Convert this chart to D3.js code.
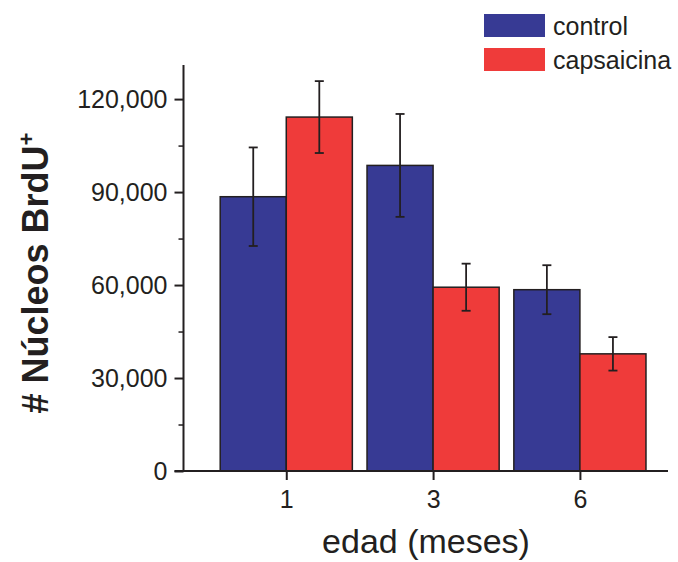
<!DOCTYPE html>
<html>
<head>
<meta charset="utf-8">
<script src="https://cdn.jsdelivr.net/npm/d3@7"></script>
<style>
  body { margin: 0; background: #fff; }
  text { font-family: Arial, "Liberation Sans", sans-serif; fill: #231f20; }
</style>
</head>
<body>
<div id="chart"></div>
<script>
// data
const ages = ["1", "3", "6"];
const seriesNames = ["control", "capsaicina"];
const controlMean = [88500, 98600, 58500];
const controlErr = [15900, 16600, 7900];
const capsMean = [114200, 59300, 37800];
const capsErr = [11600, 7600, 5400];
const yTicks = [0, 30000, 60000, 90000, 120000];
const yMinorTicks = [15000, 45000, 75000, 105000];
const colors = ["#373a94", "#ef3b3a"];
const ink = "#231f20";

const width = 678, height = 562;

const svg = d3.select("#chart").append("svg")
    .attr("width", width)
    .attr("height", height);

// categories sit at positions 1..3 on a linear axis
const x = d3.scaleLinear().domain([0.3, 3.6]).range([183.5, 668]);
const y = d3.scaleLinear().domain([0, 131000]).range([471, 65]);
const barW = x(1.45) - x(1);

const rows = [];
ages.forEach((a, i) => {
    rows.push({ i: i + 1, s: 0, v: controlMean[i], e: controlErr[i] });
    rows.push({ i: i + 1, s: 1, v: capsMean[i], e: capsErr[i] });
});

// bars
svg.selectAll("rect.bar")
    .data(rows)
    .enter()
    .append("rect")
    .attr("class", "bar")
    .attr("x", d => d.s === 0 ? x(d.i) - barW : x(d.i))
    .attr("y", d => y(d.v))
    .attr("width", barW)
    .attr("height", d => y(0) - y(d.v))
    .attr("fill", d => colors[d.s])
    .attr("stroke", ink)
    .attr("stroke-width", 1.5);

// error bars
const cx = d => d.s === 0 ? x(d.i) - barW / 2 : x(d.i) + barW / 2;
const err = svg.append("g").attr("stroke", ink).attr("stroke-width", 1.8);
rows.forEach(d => {
    const c = cx(d);
    err.append("line").attr("x1", c).attr("x2", c)
        .attr("y1", y(d.v + d.e)).attr("y2", y(d.v - d.e));
    err.append("line").attr("x1", c - 4.5).attr("x2", c + 4.5)
        .attr("y1", y(d.v + d.e)).attr("y2", y(d.v + d.e));
    err.append("line").attr("x1", c - 4.5).attr("x2", c + 4.5)
        .attr("y1", y(d.v - d.e)).attr("y2", y(d.v - d.e));
});

// y axis
const yAxis = svg.append("g")
    .attr("transform", `translate(${x.range()[0]},0)`)
    .call(d3.axisLeft(y).tickValues(yTicks).tickSize(9).tickPadding(7)
        .tickFormat(d3.format(",")));
yAxis.select(".domain").attr("d", `M0,${y.range()[1]}V${y(0)}`);
yAxis.selectAll("line, path").attr("stroke", ink).attr("stroke-width", 2);
yAxis.selectAll("text").attr("font-size", 25).attr("fill", ink)
    .style("font-family", "Arial, 'Liberation Sans', sans-serif");

const yMinor = svg.append("g")
    .attr("transform", `translate(${x.range()[0]},0)`)
    .call(d3.axisLeft(y).tickValues(yMinorTicks).tickSize(5).tickFormat(""));
yMinor.select(".domain").remove();
yMinor.selectAll("line").attr("stroke", ink).attr("stroke-width", 1.5);

// x axis
const xAxis = svg.append("g")
    .attr("transform", `translate(0,${y(0)})`)
    .call(d3.axisBottom(x).tickValues([1, 2, 3]).tickSize(9).tickPadding(10)
        .tickFormat((d, i) => ages[i]));
xAxis.select(".domain").attr("d", `M${x.range()[0] - 9},0H${x.range()[1]}`);
xAxis.selectAll("line, path").attr("stroke", ink).attr("stroke-width", 2);
xAxis.selectAll("text").attr("font-size", 25).attr("fill", ink)
    .style("font-family", "Arial, 'Liberation Sans', sans-serif");

// axis titles
svg.append("text")
    .attr("x", 426)
    .attr("y", 553)
    .attr("text-anchor", "middle")
    .attr("font-size", 34)
    .text("edad (meses)");

const yt = svg.append("text")
    .attr("transform", "translate(48,273) rotate(-90)")
    .attr("text-anchor", "middle")
    .attr("font-size", 36)
    .attr("font-weight", "bold");
yt.append("tspan").text("# Núcleos BrdU");
yt.append("tspan").attr("font-size", 22).attr("dy", -14).text("+");

// legend
const leg = svg.append("g");
seriesNames.forEach((s, i) => {
    leg.append("rect")
        .attr("x", 484).attr("y", 14 + i * 34)
        .attr("width", 61).attr("height", 23)
        .attr("fill", colors[i]);
    leg.append("text")
        .attr("x", 553).attr("y", 35 + i * 34)
        .attr("font-size", 25)
        .text(s);
});
</script>
</body>
</html>
